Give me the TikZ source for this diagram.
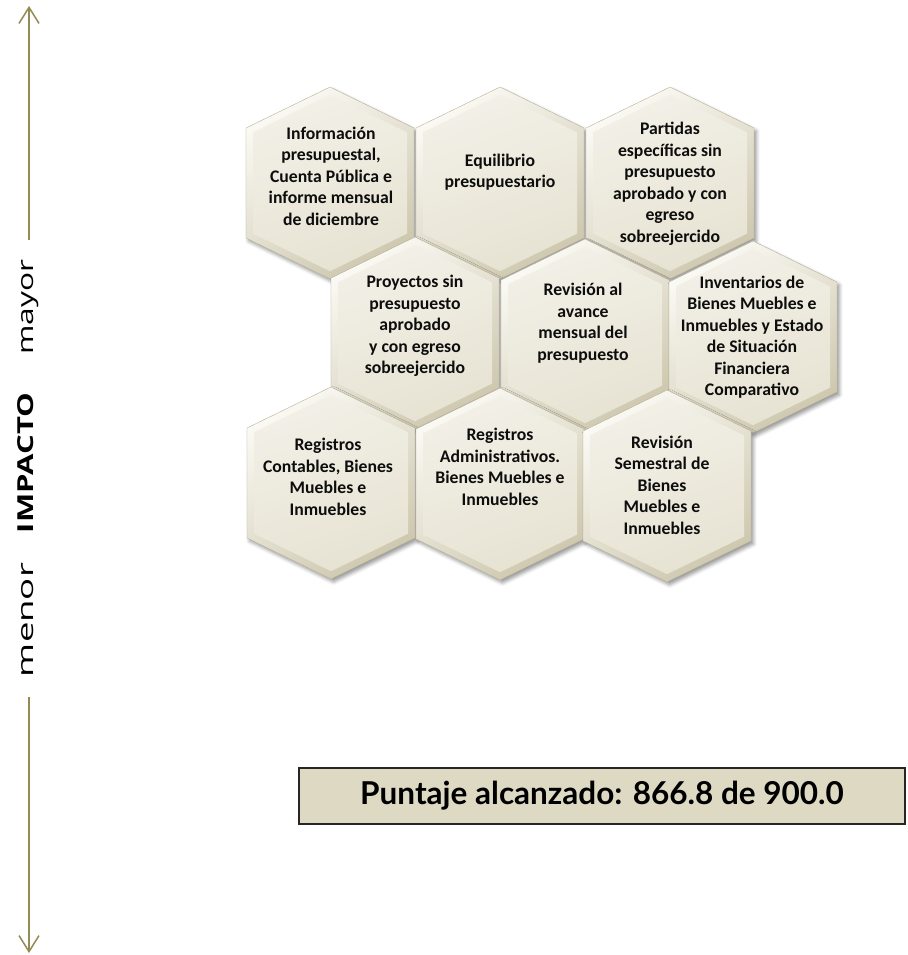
\documentclass[tikz,border=0pt]{standalone}
\usepackage{fontspec}
\usepackage{tikz}
\usetikzlibrary{arrows.meta,shadows.blur}
\setmainfont{Carlito}
\newfontfamily\axisfont{Open Sans}
\newfontfamily\scorefont{Lato}
\definecolor{axisolive}{HTML}{948A54}
\definecolor{hexlight}{HTML}{FAF9F3}
\definecolor{hexdark}{HTML}{CEC8AF}
\definecolor{hexmid}{HTML}{F2F0E7}
\definecolor{hexlow}{HTML}{E7E3D3}
\definecolor{hexedge}{HTML}{B8B29A}
\definecolor{scorefill}{HTML}{DDD9C3}
\tikzset{
  hexrim/.style={top color=hexlight, bottom color=hexdark, shading angle=35,
    draw=hexedge, line width=0.4pt,
    blur shadow={shadow xshift=2.5pt, shadow yshift=-3pt, shadow blur radius=3.5pt, shadow opacity=40}},
  hexface/.style={top color=hexmid, bottom color=hexlow, shading angle=20},
  hexcell/.pic={
    \path[hexrim] (0,-96) -- ++(84,41) -- ++(0,110) -- ++(-84,41) -- ++(-84,-41) -- ++(0,-110) -- cycle;
    \path[hexface] (0,-88.2) -- ++(77,37.6) -- ++(0,101.2) -- ++(-77,37.6) -- ++(-77,-37.6) -- ++(0,-101.2) -- cycle;
  }
}

\begin{document}
\begin{tikzpicture}[x=1pt, y=-1pt,
  cell/.style={align=center, inner sep=0pt, text=black!95, font=\bfseries\fontsize{17.7}{21.5}\selectfont},
  sidelabel/.style={rotate=90, anchor=base, inner sep=0pt, font=\axisfont\fontsize{22}{26}\selectfont},
  axisline/.style={draw=axisolive, line width=1.5pt, -{Straight Barb[length=16pt, width=20pt]}},
  scorebox/.style={draw=black!85, line width=1.2pt, fill=scorefill, minimum width=606pt,
    minimum height=56pt, inner sep=0pt, font=\scorefont\bfseries\fontsize{31.5}{36}\selectfont}]
  \useasboundingbox (0,0) rectangle (907,955);
  % impact axis
  \coordinate (axtop) at (29,6);
  \coordinate (axhi) at (29,240);
  \coordinate (axlo) at (29,697);
  \coordinate (axbot) at (29,953);
  \draw[axisline] (axhi) -- (axtop);
  \draw[axisline] (axlo) -- (axbot);
  \node[sidelabel] (mayor) at (33,307) {\resizebox{95pt}{\height}{mayor}};
  \node[sidelabel] (impacto) at (33,463) {\resizebox{140pt}{\height}{\bfseries IMPACTO}};
  \node[sidelabel] (menor) at (33,620) {\resizebox{114pt}{\height}{menor}};
  % honeycomb
  \foreach \cx/\cy in {330/183, 500/183, 670/183, 415/333, 585/335, 753/337, 331/483, 500/484, 667/486}
    \pic at (\cx,\cy) {hexcell};
  \node[cell] (info) at (331,176) {Información\\presupuestal,\\Cuenta Pública e\\informe mensual\\de diciembre};
  \node[cell] (equilibrio) at (500,172) {Equilibrio\\presupuestario};
  \node[cell] (partidas) at (670,184) {Partidas\\específicas sin\\presupuesto\\aprobado y con\\egreso\\sobreejercido};
  \node[cell] (proyectos) at (415,326) {Proyectos sin\\presupuesto\\aprobado\\y con egreso\\sobreejercido};
  \node[cell] (avance) at (583,323) {Revisión al\\avance\\mensual del\\presupuesto};
  \node[cell] (inventarios) at (752,337) {Inventarios de\\Bienes Muebles e\\Inmuebles y Estado\\de Situación\\Financiera\\Comparativo};
  \node[cell] (contables) at (328,477) {Registros\\Contables, Bienes\\Muebles e\\Inmuebles};
  \node[cell] (administrativos) at (500,467) {Registros\\Administrativos.\\Bienes Muebles e\\Inmuebles};
  \node[cell] (semestral) at (662,485) {Revisión\\Semestral de\\Bienes\\Muebles e\\Inmuebles};
  % score
  \node[scorebox] (puntaje) at (602,796) {Puntaje alcanzado: 866.8 de 900.0};
\end{tikzpicture}
\end{document}
